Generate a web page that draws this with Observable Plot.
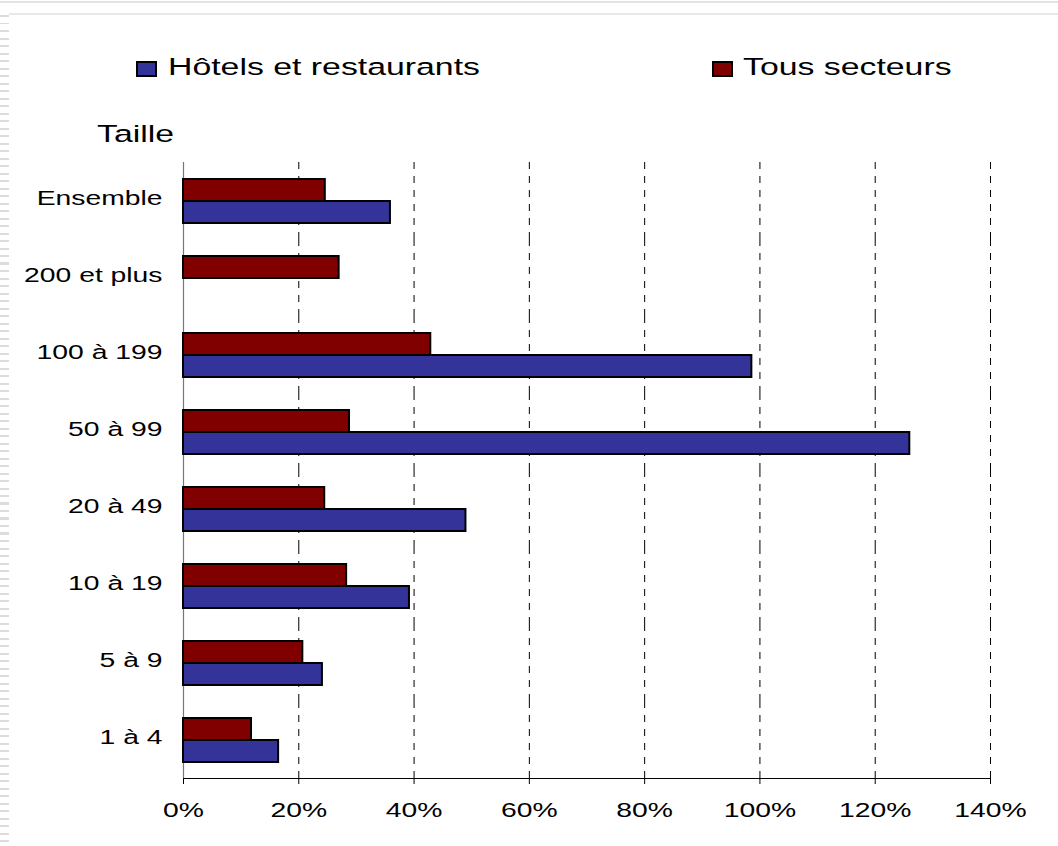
<!DOCTYPE html>
<html>
<head>
<meta charset="utf-8">
<script src="https://cdn.jsdelivr.net/npm/d3@7"></script>
<script src="https://cdn.jsdelivr.net/npm/@observablehq/plot@0.6"></script>
<style>
  html, body { margin: 0; padding: 0; background: #fff; overflow: hidden; }
  body { width: 1058px; height: 846px; position: relative; font-family: "Liberation Sans", Arial, sans-serif; }
  #deco-top1 { position: absolute; left: 0; top: 1px; width: 1058px; height: 2px; background: #e4e4e4; }
  #deco-top2 { position: absolute; left: 9px; top: 13px; width: 1049px; height: 2px; background: #e8e8e8; }
  #deco-left { position: absolute; left: 0; top: 15px; width: 9px; height: 831px;
    background: repeating-linear-gradient(to bottom, #dcdcdc 0px, #dcdcdc 2px, transparent 2px, transparent 7.5px); }
  #header { position: relative; width: 1058px; height: 150px; }
  .lg-swatch { position: absolute; box-sizing: border-box; border: 2px solid #000; width: 21px; height: 16px; }
  .txt { position: absolute; font-size: 24.5px; line-height: 24.5px; white-space: nowrap; color: #000;
    display: inline-block; transform: scaleX(1.38); transform-origin: left center; }
  #chart svg { display: block; }
</style>
</head>
<body>
<div id="deco-top1"></div>
<div id="deco-top2"></div>
<div id="deco-left"></div>
<div id="header"></div>
<div id="chart"></div>
<script>
// ---- data ----
const categories = ["Ensemble", "200 et plus", "100 à 199", "50 à 99", "20 à 49", "10 à 19", "5 à 9", "1 à 4"];
const seriesNames = ["Tous secteurs", "Hôtels et restaurants"];
const tousSecteurs = [24.6, 27.0, 42.9, 28.8, 24.5, 28.3, 20.7, 11.8];
const hotelsRestaurants = [35.9, null, 98.6, 126.0, 49.0, 39.2, 24.1, 16.5];
const seriesColors = ["#800000", "#333399"];
const xTicks = [0, 20, 40, 60, 80, 100, 120, 140];
const legendOrder = ["Hôtels et restaurants", "Tous secteurs"];
const axisTitle = "Taille";

const rows = categories.flatMap((c, i) => [
  {cat: c, series: seriesNames[0], value: tousSecteurs[i]},
  {cat: c, series: seriesNames[1], value: hotelsRestaurants[i]}
]).filter(d => d.value != null);

// ---- header (legend + axis title) ----
const header = document.getElementById("header");
const legendPos = [{sx: 136, tx: 168}, {sx: 712, tx: 743}];
legendOrder.forEach((name, k) => {
  const sw = document.createElement("div");
  sw.className = "lg-swatch";
  sw.style.left = legendPos[k].sx + "px";
  sw.style.top = "61px";
  sw.style.background = seriesColors[seriesNames.indexOf(name)];
  header.appendChild(sw);
  const t = document.createElement("span");
  t.className = "txt";
  t.textContent = name;
  t.style.left = legendPos[k].tx + "px";
  t.style.top = "55px";
  header.appendChild(t);
});
const ttl = document.createElement("span");
ttl.className = "txt";
ttl.textContent = axisTitle;
ttl.style.left = "97px";
ttl.style.top = "122px";
header.appendChild(ttl);

// ---- chart ----
const chart = Plot.plot({
  width: 1058,
  height: 696,
  marginTop: 10,
  marginBottom: 66,
  marginLeft: 183,
  marginRight: 68,
  style: {fontFamily: "'Liberation Sans', Arial, sans-serif", fontSize: "20.5px", color: "#000", background: "transparent"},
  x: {domain: [0, 140], ticks: xTicks, tickFormat: d => d + "%", label: null, tickSize: 6, tickPadding: 18, line: true},
  y: {domain: seriesNames, axis: null, paddingInner: 0, paddingOuter: 0.72},
  fy: {domain: categories, padding: 0, label: null},
  color: {domain: seriesNames, range: seriesColors},
  marks: [
    Plot.gridX(xTicks.filter(t => t > 0), {stroke: "#000", strokeOpacity: 1, strokeWidth: 1, strokeDasharray: "7,7"}),
    Plot.ruleX([0], {stroke: "#777", strokeWidth: 1.2}),
    Plot.barX(rows, {x: "value", y: "series", fy: "cat", fill: "series", stroke: "#000", strokeWidth: 2}),
    Plot.axisFy({anchor: "left", label: null, tickSize: 0, tickPadding: 21, dy: -3})
  ]
});
document.getElementById("chart").appendChild(chart);

// stretch the axis texts horizontally like the original
chart.querySelectorAll("text").forEach(t => {
  const w = t.getComputedTextLength();
  if (w > 0) {
    t.setAttribute("textLength", (w * 1.38).toFixed(1));
    t.setAttribute("lengthAdjust", "spacingAndGlyphs");
  }
});
</script>
</body>
</html>
